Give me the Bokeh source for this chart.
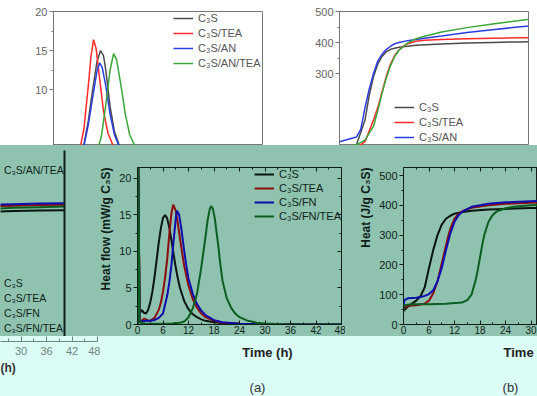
import math
from bokeh.plotting import figure
from bokeh.layouts import row, column
from bokeh.models import (Range1d, LinearAxis, FixedTicker, Legend, LegendItem,
                          Title, CustomJSTickFormatter)
from bokeh.core.properties import value
from bokeh.embed import file_html
from bokeh.resources import INLINE

# ---------------- data ----------------
# Panel (a): heat flow (mW/g C3S) vs time (h)
t_a_c3s = [0, 0.15, 0.5, 1, 1.5, 2, 2.5, 3, 3.5, 4, 4.5, 5, 5.5, 6, 6.5, 7, 7.5, 8, 8.5, 9, 9.5, 10, 11, 12, 13, 14, 15, 16, 18, 20, 24, 30, 48]
a_c3s = [0, 24, 1.5, 2.0, 1.6, 1.5, 2.0, 3.0, 4.5, 6.5, 8.8, 11.2, 13.2, 14.6, 15.0, 14.5, 13.2, 11.5, 9.6, 7.8, 6.3, 5.0, 3.2, 2.1, 1.4, 1.0, 0.7, 0.5, 0.3, 0.2, 0.1, 0.05, 0.0]
t_a_tea = [0, 0.15, 0.5, 1, 1.5, 2, 2.5, 3, 4, 5, 5.5, 6, 6.5, 7, 7.5, 8, 8.4, 9, 9.5, 10, 10.5, 11, 12, 13, 14, 15, 16, 18, 20, 24, 30, 48]
a_tea = [0, 24, 0.5, 0.5, 0.8, 0.7, 0.5, 0.5, 0.9, 2.0, 3.0, 4.5, 6.5, 9.0, 12.5, 15.3, 16.4, 15.6, 13.8, 11.8, 9.8, 8.0, 5.3, 3.5, 2.3, 1.5, 1.0, 0.5, 0.25, 0.1, 0.05, 0.0]
t_a_fn = [0, 0.15, 0.5, 1, 2, 3, 4, 5, 6, 7, 7.5, 8, 8.5, 9, 9.3, 9.8, 10.3, 11, 11.5, 12, 13, 14, 15, 16, 18, 20, 24, 30, 48]
a_fn = [0, 24, 0.4, 0.4, 0.5, 0.5, 0.6, 0.9, 1.5, 4.0, 5.8, 8.2, 11.5, 14.5, 15.6, 15.0, 13.2, 10.0, 8.0, 6.3, 4.2, 2.8, 1.9, 1.3, 0.6, 0.3, 0.1, 0.05, 0.0]
t_a_fntea = [0, 0.15, 0.5, 1, 2, 4, 6, 8, 10, 11, 12, 13, 14, 15, 16, 16.5, 17, 17.3, 17.7, 18.2, 19, 19.5, 20, 21, 22, 23, 24, 26, 28, 30, 34, 48]
a_fntea = [0, 24, 0.3, 0.2, 0.1, 0.1, 0.1, 0.15, 0.25, 0.4, 1.0, 2.2, 4.2, 7.8, 12.0, 14.3, 15.8, 16.2, 15.9, 14.5, 10.8, 8.2, 6.0, 3.6, 2.3, 1.5, 1.0, 0.5, 0.25, 0.15, 0.05, 0.0]

# Panel (b): heat (J/g C3S) vs time (h)
t_b_c3s = [0, 1, 2, 3, 4, 5, 6, 7, 8, 9, 10, 11, 12, 14, 16, 20, 24, 30, 36, 42, 48]
b_c3s = [45, 60, 70, 80, 95, 125, 190, 250, 300, 335, 355, 365, 372, 378, 382, 386, 388, 391, 393, 395, 396]
t_b_tea = [0, 1, 2, 3, 4, 5, 6, 7, 8, 9, 10, 10.5, 11, 12, 13, 14, 16, 20, 24, 30, 36, 42, 48]
b_tea = [55, 62, 64, 65, 67, 70, 80, 105, 145, 205, 265, 295, 320, 355, 372, 382, 392, 400, 405, 409, 411, 413, 414]
t_b_fn = [0, 0.2, 1, 2, 3, 4, 5, 6, 7, 8, 9, 10, 11, 12, 13, 14, 16, 20, 24, 30, 36, 42, 48]
b_fn = [60, 82, 88, 89, 90, 92, 96, 102, 115, 145, 190, 250, 305, 345, 368, 380, 395, 405, 410, 414, 416, 418, 419]
t_b_fntea = [0, 0.2, 2, 4, 6, 8, 10, 12, 13, 14, 15, 16, 17, 17.5, 18, 18.5, 19, 20, 21, 22, 24, 26, 30, 36, 42, 48]
b_fntea = [45, 65, 68, 68, 68, 69, 70, 72, 73, 75, 82, 100, 150, 185, 225, 265, 300, 345, 368, 380, 390, 395, 400, 404, 406, 408]

# Upper fragment: heat flow, C3S / TEA / AN series
t_u_c3s = [0, 4, 6, 7, 8, 9, 10, 10.8, 11.5, 12, 13, 14, 15, 16, 18, 20, 24, 30, 48]
u_c3s = [0.3, 0.8, 1.8, 3.0, 6.0, 10.0, 13.6, 15.0, 14.3, 12.5, 7.8, 4.6, 3.0, 2.0, 1.0, 0.5, 0.2, 0.1, 0.0]
t_u_tea = [0, 4, 5, 6, 7, 8, 8.6, 9.2, 9.8, 10.5, 11.5, 12.5, 14, 16, 18, 20, 24, 48]
u_tea = [0.3, 0.5, 1.0, 2.2, 5.0, 10.5, 14.2, 16.4, 15.2, 11.8, 7.2, 4.4, 2.4, 1.2, 0.6, 0.3, 0.1, 0.0]
t_u_an = [0, 4, 6, 7, 8, 9, 10, 10.6, 11.2, 12, 13, 14, 15, 16, 18, 20, 24, 48]
u_an = [0.3, 0.5, 1.5, 2.8, 5.5, 9.0, 12.4, 13.4, 12.8, 10.5, 6.8, 4.2, 2.8, 1.9, 1.0, 0.5, 0.2, 0.0]
t_u_antea = [0, 4, 8, 10, 11, 12, 13, 13.8, 14.5, 15.5, 16.5, 17.5, 19, 21, 24, 30, 48]
u_antea = [0.2, 0.3, 0.8, 2.0, 4.0, 8.0, 12.5, 14.6, 13.8, 10.5, 6.8, 4.2, 2.4, 1.3, 0.6, 0.2, 0.0]

# Upper fragment: heat, C3S / TEA / AN series
t_h_c3s = [0, 2, 4, 6, 7, 8, 9, 10, 11, 12, 14, 18, 24, 30, 36, 42, 48]
h_c3s = [40, 55, 70, 150, 230, 290, 330, 355, 370, 378, 385, 391, 395, 398, 400, 402, 403]
t_h_tea = [0, 4, 6, 8, 9, 10, 11, 12, 13, 14, 15, 16, 18, 20, 24, 30, 36, 42, 48]
h_tea = [45, 60, 80, 150, 190, 240, 290, 330, 358, 376, 388, 396, 404, 407, 410, 412, 414, 415, 416]
t_h_an = [0, 4, 5, 6, 7, 8, 9, 10, 11, 12, 13, 14, 16, 20, 24, 30, 36, 42, 48]
h_an = [80, 95, 120, 190, 250, 300, 340, 362, 377, 388, 396, 400, 406, 414, 421, 432, 441, 450, 458]
t_h_antea = [0, 4, 6, 8, 9, 10, 11, 12, 13, 14, 16, 18, 20, 24, 30, 36, 42, 48]
h_antea = [60, 70, 85, 130, 180, 235, 285, 325, 355, 375, 398, 412, 420, 434, 448, 460, 470, 482]

labels_fn = ["C\u2083S", "C\u2083S/TEA", "C\u2083S/FN", "C\u2083S/FN/TEA"]
labels_an = ["C\u2083S", "C\u2083S/TEA", "C\u2083S/AN", "C\u2083S/AN/TEA"]

time_ticks = [0, 6, 12, 18, 24, 30, 36, 42, 48]
time_minor = [3, 9, 15, 21, 27, 33, 39, 45]

# bottom strip annotation texts
strip_bold = ["Time (h)", "Time"]
strip_plain = ["(a)", "(b)"]

# ---------------- styles ----------------
TEAL = "#8fc3b0"
CYAN = "#dcfcf6"
WHITE = "#ffffff"
DARK = "#0f1f18"
GREY = "#666666"
FONT = "Liberation Sans"
MID_COLORS = ["#0a1510", "#8b0d0d", "#0d0db0", "#0b5e1e"]
TOP_COLORS = ["#4a4a4a", "#ff2a2a", "#2b3de0", "#3aa63a"]


def make_fig(w, h, xr, yr, bg, left=0, right=0, top=0, bottom=0):
    p = figure(width=w, height=h, x_range=Range1d(*xr), y_range=Range1d(*yr),
               output_backend="svg", toolbar_location=None, tools="",
               background_fill_color=bg, border_fill_color=bg,
               min_border_left=left, min_border_right=right,
               min_border_top=top, min_border_bottom=bottom,
               x_axis_location=None, y_axis_location=None)
    p.frame_align = False
    p.grid.visible = False
    p.outline_line_color = None
    return p


def add_axis(p, side, ticks, minor, color, size="11px", labels=True,
             t_in=0, t_out=4, m_in=0, m_out=2, standoff=2, width=1, lcolor=None):
    ax = LinearAxis(ticker=FixedTicker(ticks=ticks, minor_ticks=minor))
    ax.axis_line_color = color
    ax.axis_line_width = width
    ax.major_tick_line_color = color
    ax.minor_tick_line_color = color
    ax.major_tick_in = t_in
    ax.major_tick_out = t_out
    ax.minor_tick_in = m_in
    ax.minor_tick_out = m_out
    ax.major_label_text_color = lcolor or color
    ax.major_label_text_font = FONT
    ax.major_label_text_font_size = size
    ax.major_label_standoff = standoff
    if not labels:
        ax.formatter = CustomJSTickFormatter(code="return ''")
        ax.major_label_standoff = 0
    p.add_layout(ax, side)
    return ax


def add_legend(p, renderers, labels, location, color, size="11px",
               glyph_w=20, padding=0, spacing=1):
    items = [LegendItem(label=l, renderers=[r]) for l, r in zip(labels, renderers)]
    lg = Legend(items=items, location=location)
    lg.border_line_color = None
    lg.background_fill_alpha = 0
    lg.label_text_font = FONT
    lg.label_text_font_size = size
    lg.label_text_color = color
    lg.glyph_width = glyph_w
    lg.glyph_height = 14
    lg.label_height = 14
    lg.label_standoff = 5
    lg.padding = padding
    lg.spacing = spacing
    lg.margin = 0
    p.add_layout(lg)
    return lg


def side_title(p, text, side, align, standoff=6, size="12px"):
    t = Title(text=text, align=align, text_font=FONT, text_font_style="bold",
              text_font_size=size, text_color=DARK, standoff=standoff)
    p.add_layout(t, side)
    return t


# ---------------- top-left fragment (heat flow, AN series) ----------------
TOP_H = 145
tl = make_fig(270, TOP_H, (0, 48), (20 - 134 / 7.8, 20), WHITE, left=53, right=8, top=11)
tl.outline_line_color = "#777777"
add_axis(tl, "left", [10, 15, 20], [12.5, 17.5], "#777777", lcolor=GREY)
r_tl = []
for tt, yy, c in zip([t_u_c3s, t_u_tea, t_u_an, t_u_antea], [u_c3s, u_tea, u_an, u_antea], TOP_COLORS):
    r_tl.append(tl.line(tt, yy, line_color=c, line_width=1.5))
add_legend(tl, r_tl, labels_an, (120, 75), "#555555")

# ---------------- top-right fragment (heat, AN series) ----------------
tr = make_fig(267, TOP_H, (0, (528 - 339) / 4.25), (500 - 134 / 0.31, 500), WHITE,
              left=69, right=9, top=11)
tr.outline_line_color = "#777777"
add_axis(tr, "left", [300, 400, 500], [350, 450], "#777777", lcolor=GREY)
r_tr = []
for tt, yy, c in zip([t_h_c3s, t_h_tea, t_h_an, t_h_antea], [h_c3s, h_tea, h_an, h_antea], TOP_COLORS):
    r_tr.append(tr.line(tt, yy, line_color=c, line_width=1.5))
add_legend(tr, r_tr[:3], labels_an[:3], (55, 1), "#555555")

# ---------------- left fragment (heat plateau) ----------------
MID_H = 191
fl = make_fig(70, MID_H, (48 - 64 / 4.25, 48), (405 - 129 / 0.299, 405 + 57 / 0.299), TEAL,
              left=0, right=6, top=5)
add_axis(fl, "right", [], [], DARK, labels=False, t_in=0, t_out=0, m_out=0, width=2)
r_fl = []
for tt, yy, c in zip([t_b_c3s, t_b_tea, t_b_fn, t_b_fntea], [b_c3s, b_tea, b_fn, b_fntea], MID_COLORS):
    r_fl.append(fl.line(tt, yy, line_color=c, line_width=2))
add_legend(fl, r_fl, labels_fn, (-21, 1), DARK, size="10.5px")
add_legend(fl, [r_fl[3]], ["C\u2083S/AN/TEA"], (-21, 159), DARK, size="10.5px")

# ---------------- panel (a) ----------------
pa = make_fig(275, MID_H, (0, 48), (0, 21.5), TEAL, left=67, right=4, top=22, bottom=12)
pa.outline_line_color = DARK
add_axis(pa, "below", time_ticks, time_minor, DARK, size="10px", t_in=4, t_out=0, m_in=2, m_out=0, standoff=1)
add_axis(pa, "left", [0, 5, 10, 15, 20], [2.5, 7.5, 12.5, 17.5], DARK, t_in=0, t_out=4, m_out=2)
add_axis(pa, "above", time_ticks, time_minor, DARK, labels=False, t_in=4, t_out=0, m_in=2, m_out=0)
add_axis(pa, "right", [0, 5, 10, 15, 20], [2.5, 7.5, 12.5, 17.5], DARK, labels=False, t_in=4, t_out=0, m_in=2, m_out=0)
r_a = []
for tt, yy, c in zip([t_a_c3s, t_a_tea, t_a_fn, t_a_fntea], [a_c3s, a_tea, a_fn, a_fntea], MID_COLORS):
    r_a.append(pa.line(tt, yy, line_color=c, line_width=2))
add_legend(pa, r_a, labels_fn, "top_right", DARK, padding=6, spacing=0)
side_title(pa, "Heat flow (mW/g C\u2083S)", "left", "right", standoff=8)

# ---------------- panel (b) ----------------
pb = make_fig(192, MID_H, (0, (537 - 403) / 4.25), (0, 527), TEAL, left=58, right=0, top=22, bottom=12)
pb.outline_line_color = DARK
add_axis(pb, "below", time_ticks, time_minor, DARK, size="10px", t_in=4, t_out=0, m_in=2, m_out=0, standoff=1)
add_axis(pb, "left", [0, 100, 200, 300, 400, 500], [50, 150, 250, 350, 450], DARK, t_in=0, t_out=4, m_out=2)
add_axis(pb, "above", time_ticks, time_minor, DARK, labels=False, t_in=4, t_out=0, m_in=2, m_out=0)
for tt, yy, c in zip([t_b_c3s, t_b_tea, t_b_fn, t_b_fntea], [b_c3s, b_tea, b_fn, b_fntea], MID_COLORS):
    pb.line(tt, yy, line_color=c, line_width=2)
side_title(pb, "Heat (J/g C\u2083S)", "left", "right", standoff=8)

# ---------------- bottom strip ----------------
BOT_H = 60
bl = make_fig(100, BOT_H, (48 - 97 / 4.25, 48), (0, 1), CYAN, left=0, right=3, top=0, bottom=55)
add_axis(bl, "below", [30, 36, 42, 48], [27, 33, 39, 45], "#6f8582", size="11px",
         t_in=5, t_out=0, m_in=3, m_out=0, standoff=5)
bl.add_layout(Title(text="(h)", align="left", text_font=FONT, text_font_style="bold",
                    text_font_size="12px", text_color="#333333", standoff=2), "below")

br = make_fig(437, BOT_H, (100, 537), (396, 336), CYAN)
br.text(x=[267, 503], y=[352, 352], text=strip_bold, text_align=["center", "left"],
        text_baseline="middle", text_font=value(FONT), text_font_style="bold",
        text_font_size="13px", text_color="#222222")
br.text(x=[257, 510], y=[387, 387], text=strip_plain, text_align="center",
        text_baseline="middle", text_font=value(FONT),
        text_font_size="13px", text_color="#333333")

layout = column(row(tl, tr, styles={"background-color": WHITE}),
                row(fl, pa, pb, styles={"background-color": TEAL}),
                row(bl, br, styles={"background-color": CYAN}))
open("out.html", "w").write(file_html(layout, INLINE))
